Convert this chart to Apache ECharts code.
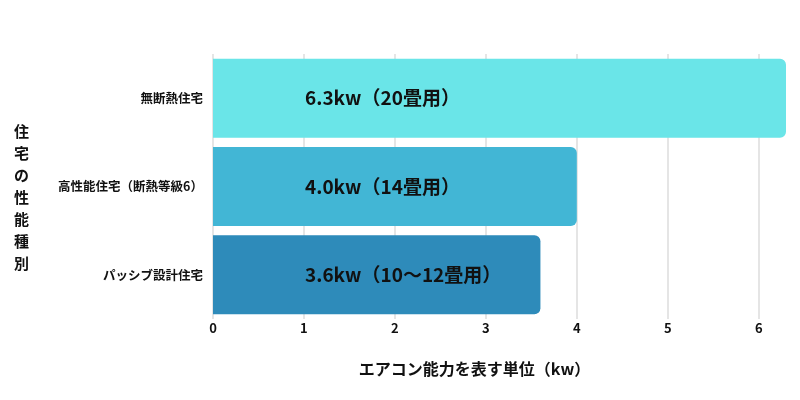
<!DOCTYPE html>
<html><head><meta charset="utf-8">
<script src="https://cdn.jsdelivr.net/npm/echarts@6/dist/echarts.min.js"></script>
<style>html,body{margin:0;padding:0;background:#fff}#c{width:800px;height:400px}</style>
</head><body><div id="c"></div>
<script>
const categories = ['無断熱住宅', '高性能住宅（断熱等級6）', 'パッシブ設計住宅'];
const values = [6.3, 4.0, 3.6];
const barLabels = ['6.3kw（20畳用）', '4.0kw（14畳用）', '3.6kw（10〜12畳用）'];
const barColors = ['#6AE5E8', '#42B6D5', '#2E8BBA'];
const xTicks = [0, 1, 2, 3, 4, 5, 6];
const font = '"Noto Sans CJK JP", "Noto Sans", sans-serif';

const chart = echarts.init(document.getElementById('c'));
chart.setOption({
  animation: false,
  textStyle: { fontFamily: font },
  grid: { left: 213, right: 14, top: 54, bottom: 81, containLabel: false },
  xAxis: {
    type: 'value', min: 0, max: 6.3, interval: 1,
    name: 'エアコン能力を表す単位（kw）', nameLocation: 'middle', nameGap: 42,
    nameTextStyle: { fontSize: 16, fontWeight: 'bold', color: '#111', fontFamily: font, padding: [0, 50, 0, 0] },
    axisLine: { show: false }, axisTick: { show: false },
    axisLabel: { showMaxLabel: false, fontSize: 13, fontWeight: 'bold', color: '#111', margin: 3,
      formatter: v => xTicks.includes(v) ? String(v) : '' },
    splitLine: { show: true, showMaxLine: false, lineStyle: { color: '#dcdcdc', width: 1.5 } }
  },
  yAxis: {
    type: 'category', data: categories, inverse: true,
    name: '\n住\n宅\nの\n性\n能\n種\n別', nameLocation: 'middle', nameGap: 184, nameRotate: 0,
    nameTextStyle: { fontSize: 15, fontWeight: 'bold', color: '#111', lineHeight: 22, fontFamily: font },
    axisLine: { show: false }, axisTick: { show: false },
    axisLabel: { fontSize: 12.5, fontWeight: 'bold', color: '#111', margin: 10 }
  },
  series: [{
    type: 'bar', barWidth: 79,
    data: values.map((v, i) => ({ value: v, itemStyle: { color: barColors[i] } })),
    itemStyle: { borderRadius: [0, 6, 6, 0] },
    label: {
      show: true, position: 'insideLeft', offset: [87, 0],
      formatter: p => barLabels[p.dataIndex],
      fontSize: 19, fontWeight: 'bold', color: '#111', fontFamily: font
    }
  }]
});
</script></body></html>
